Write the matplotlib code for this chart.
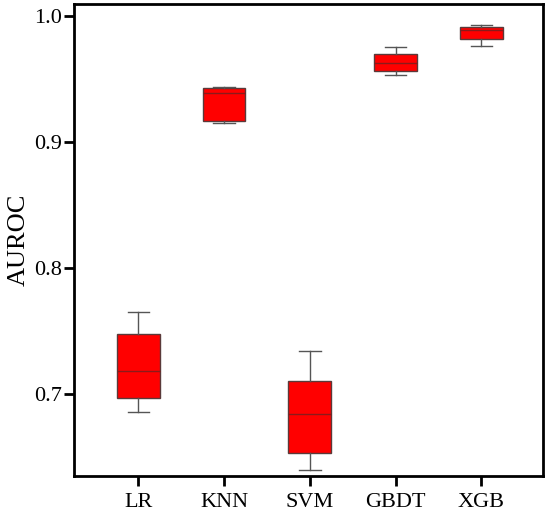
import matplotlib
matplotlib.use('Agg')
import matplotlib.pyplot as plt

# box statistics (AUROC per model)
models = ['LR', 'KNN', 'SVM', 'GBDT', 'XGB']
whis_lo = [0.686, 0.915, 0.640, 0.953, 0.976]
q1 = [0.697, 0.917, 0.653, 0.956, 0.982]
median = [0.718, 0.939, 0.684, 0.963, 0.989]
q3 = [0.748, 0.943, 0.710, 0.970, 0.991]
whis_hi = [0.765, 0.944, 0.734, 0.975, 0.993]

plt.rcParams['font.family'] = ['Liberation Serif', 'DejaVu Serif']

stats = []
for i, name in enumerate(models):
    stats.append({'label': name, 'whislo': whis_lo[i], 'q1': q1[i], 'med': median[i],
                  'q3': q3[i], 'whishi': whis_hi[i], 'fliers': []})

fig = plt.figure(figsize=(5.49, 5.14), dpi=100)
ax = fig.add_axes([74 / 549, 1 - 476 / 514, (543 - 74) / 549, (476 - 4) / 514])

ax.bxp(stats, positions=range(1, len(models) + 1), widths=0.5, patch_artist=True,
       showfliers=False,
       boxprops=dict(facecolor='#ff0000', edgecolor='#5a3a3a', linewidth=1.0),
       medianprops=dict(color='#8b1a1a', linewidth=1.0),
       whiskerprops=dict(color='#555555', linewidth=1.0),
       capprops=dict(color='#555555', linewidth=1.0))

ax.set_xlim(0.25, 5.72)
ax.set_ylim(0.635, 1.0095)
ax.set_yticks([0.7, 0.8, 0.9, 1.0])
ax.set_yticklabels(['0.7', '0.8', '0.9', '1.0'])
ax.set_ylabel('AUROC', fontsize=19, labelpad=3)

for sp in ax.spines.values():
    sp.set_linewidth(2)
ax.tick_params(axis='both', direction='out', length=7.5, width=2, labelsize=16)
ax.tick_params(axis='y', pad=1)
ax.tick_params(axis='x', pad=5)

fig.savefig('out.png', dpi=100)
